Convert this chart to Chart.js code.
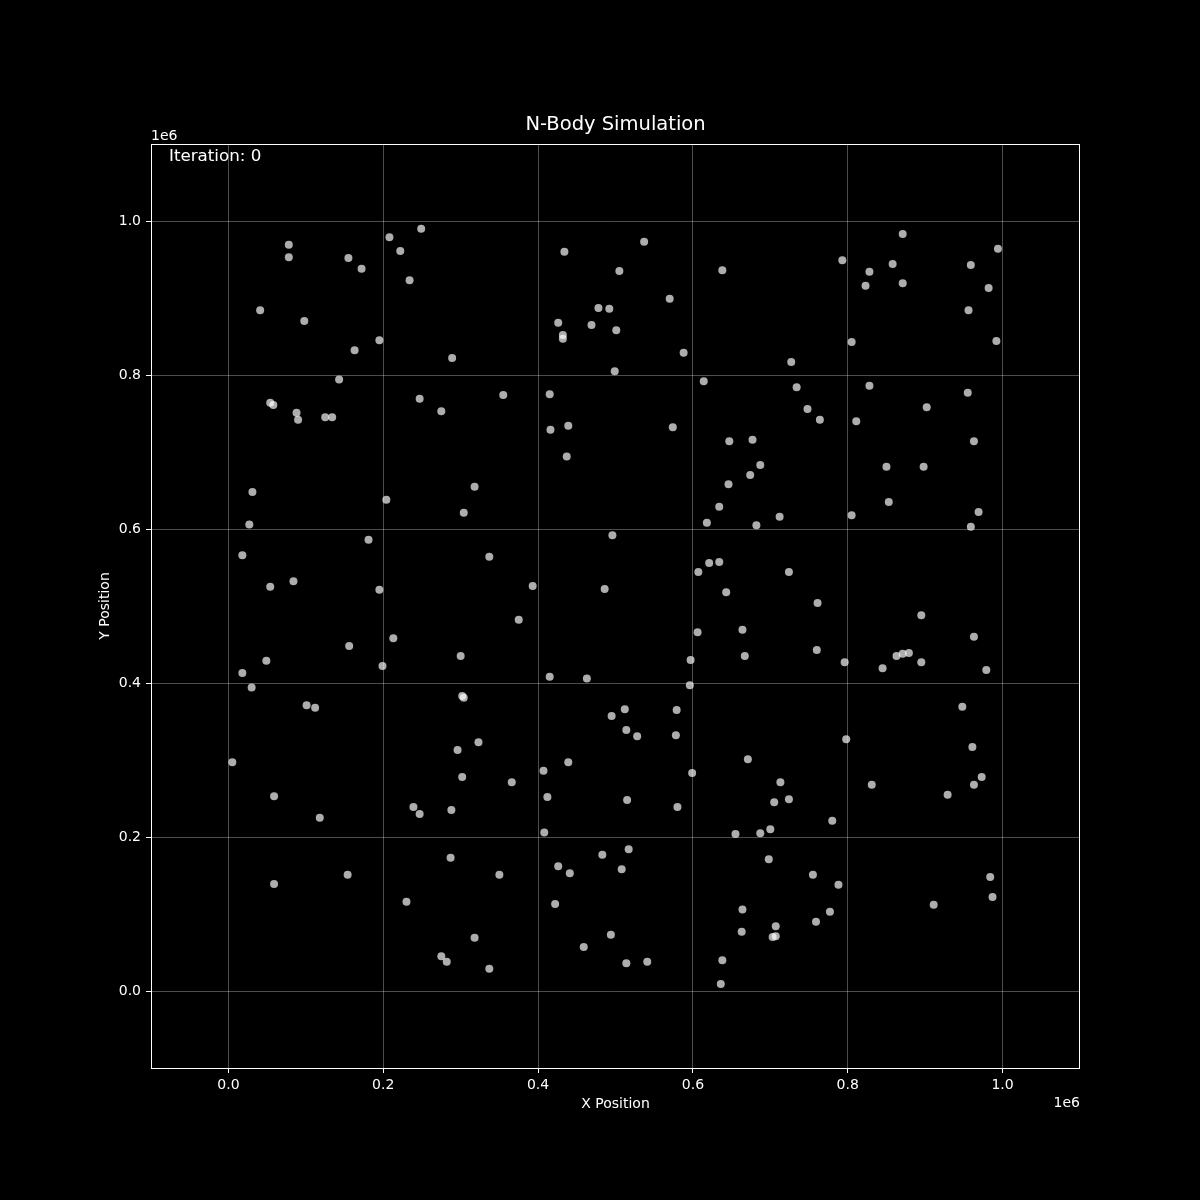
<!DOCTYPE html>
<html>
<head>
<meta charset="utf-8">
<title>N-Body Simulation</title>
<script src="https://cdn.jsdelivr.net/npm/chart.js@4.4.1/dist/chart.umd.min.js"></script>
<style>
  html, body { margin: 0; padding: 0; background: #000; }
  #wrap { width: 1200px; height: 1200px; }
</style>
</head>
<body>
<div id="wrap"><canvas id="nbody" width="1200" height="1200"></canvas></div>
<script>
// positions in units of 1e6 (axis offset label "1e6")
const bodyX = [
  0.249, 0.208, 0.434, 0.537, 0.078, 0.078, 0.155, 0.222, 0.172, 0.234,
  0.041, 0.098, 0.163, 0.195, 0.289, 0.143, 0.247, 0.054, 0.058, 0.088,
  0.090, 0.125, 0.134, 0.275, 0.355, 0.415, 0.416, 0.439, 0.437, 0.426,
  0.432, 0.432, 0.478, 0.492, 0.469, 0.501, 0.505, 0.499, 0.570, 0.588,
  0.638, 0.614, 0.574, 0.793, 0.828, 0.823, 0.858, 0.871, 0.871, 0.959,
  0.994, 0.982, 0.956, 0.992, 0.805, 0.727, 0.734, 0.828, 0.748, 0.764,
  0.647, 0.677, 0.811, 0.902, 0.955, 0.963, 0.850, 0.898, 0.687, 0.674,
  0.646, 0.634, 0.853, 0.805, 0.712, 0.682, 0.618, 0.969, 0.959, 0.031,
  0.027, 0.204, 0.318, 0.304, 0.496, 0.018, 0.181, 0.337, 0.084, 0.054,
  0.195, 0.393, 0.486, 0.375, 0.213, 0.156, 0.300, 0.049, 0.018, 0.199,
  0.030, 0.302, 0.304, 0.101, 0.112, 0.415, 0.463, 0.621, 0.634, 0.607,
  0.643, 0.606, 0.664, 0.597, 0.667, 0.596, 0.724, 0.761, 0.895, 0.760,
  0.963, 0.796, 0.845, 0.863, 0.871, 0.879, 0.895, 0.979, 0.948, 0.005,
  0.495, 0.512, 0.514, 0.528, 0.579, 0.578, 0.798, 0.961, 0.296, 0.323,
  0.439, 0.671, 0.407, 0.302, 0.366, 0.599, 0.713, 0.973, 0.963, 0.831,
  0.059, 0.412, 0.515, 0.705, 0.724, 0.929, 0.239, 0.247, 0.288, 0.580,
  0.118, 0.780, 0.408, 0.655, 0.687, 0.700, 0.517, 0.483, 0.287, 0.698,
  0.426, 0.508, 0.441, 0.154, 0.350, 0.755, 0.984, 0.788, 0.059, 0.987,
  0.230, 0.422, 0.911, 0.664, 0.777, 0.759, 0.707, 0.663, 0.703, 0.707,
  0.494, 0.318, 0.459, 0.275, 0.282, 0.514, 0.541, 0.638, 0.337, 0.636
];
const bodyY = [
  0.990, 0.979, 0.960, 0.973, 0.969, 0.953, 0.952, 0.961, 0.938, 0.923,
  0.884, 0.870, 0.832, 0.845, 0.822, 0.794, 0.769, 0.764, 0.761, 0.751,
  0.742, 0.745, 0.745, 0.753, 0.774, 0.775, 0.729, 0.734, 0.694, 0.868,
  0.852, 0.847, 0.887, 0.886, 0.865, 0.858, 0.935, 0.805, 0.899, 0.829,
  0.936, 0.792, 0.732, 0.949, 0.934, 0.916, 0.944, 0.983, 0.919, 0.943,
  0.964, 0.913, 0.884, 0.844, 0.843, 0.817, 0.784, 0.786, 0.756, 0.742,
  0.714, 0.716, 0.740, 0.758, 0.777, 0.714, 0.681, 0.681, 0.683, 0.670,
  0.658, 0.629, 0.635, 0.618, 0.616, 0.605, 0.608, 0.622, 0.603, 0.648,
  0.606, 0.638, 0.655, 0.621, 0.592, 0.566, 0.586, 0.564, 0.532, 0.525,
  0.521, 0.526, 0.522, 0.482, 0.458, 0.448, 0.435, 0.429, 0.413, 0.422,
  0.394, 0.383, 0.381, 0.371, 0.368, 0.408, 0.406, 0.556, 0.557, 0.544,
  0.518, 0.466, 0.469, 0.430, 0.435, 0.397, 0.544, 0.504, 0.488, 0.443,
  0.460, 0.427, 0.419, 0.435, 0.438, 0.439, 0.427, 0.417, 0.369, 0.297,
  0.357, 0.366, 0.339, 0.331, 0.365, 0.332, 0.327, 0.317, 0.313, 0.323,
  0.297, 0.301, 0.286, 0.278, 0.271, 0.283, 0.271, 0.278, 0.268, 0.268,
  0.253, 0.252, 0.248, 0.245, 0.249, 0.255, 0.239, 0.230, 0.235, 0.239,
  0.225, 0.221, 0.206, 0.204, 0.205, 0.210, 0.184, 0.177, 0.173, 0.171,
  0.162, 0.158, 0.153, 0.151, 0.151, 0.151, 0.148, 0.138, 0.139, 0.122,
  0.116, 0.113, 0.112, 0.106, 0.103, 0.090, 0.084, 0.077, 0.070, 0.071,
  0.073, 0.069, 0.057, 0.045, 0.038, 0.036, 0.038, 0.040, 0.029, 0.009
];
const tickValues = [0.0, 0.2, 0.4, 0.6, 0.8, 1.0];
const axisMin = -0.1;
const axisMax = 1.1;
const iteration = 0;

const points = bodyX.map((x, i) => ({ x: x, y: bodyY[i] }));
const font = "'DejaVu Sans', sans-serif";

// 背景・枠・文字をまとめて描く
const decorations = {
  id: "decorations",
  beforeDraw(chart) {
    const c = chart.ctx;
    c.save();
    c.fillStyle = "#000";
    c.fillRect(0, 0, chart.width, chart.height);
    c.restore();
  },
  afterDraw(chart) {
    const c = chart.ctx;
    const a = chart.chartArea;
    c.save();
    c.strokeStyle = "#fff";
    c.lineWidth = 1;
    c.strokeRect(a.left + 0.5, a.top + 0.5, a.right - a.left - 1, a.bottom - a.top);
    c.fillStyle = "#fff";
    c.textBaseline = "middle";
    c.textAlign = "center";
    c.font = "19.5px " + font;
    c.fillText("N-Body Simulation", (a.left + a.right) / 2, 125);
    c.font = "14px " + font;
    c.fillText("X Position", (a.left + a.right) / 2, 1104);
    c.textAlign = "left";
    c.fillText("1e6", a.left, 136);
    c.textAlign = "right";
    c.fillText("1e6", a.right, 1103);
    c.font = "16.7px " + font;
    c.textAlign = "left";
    c.fillText("Iteration: " + iteration, 169, 157);
    c.font = "14px " + font;
    c.translate(105, (a.top + a.bottom) / 2);
    c.rotate(-Math.PI / 2);
    c.textAlign = "center";
    c.fillText("Y Position", 0, 0);
    c.restore();
  },
};

const axisCommon = {
  type: "linear",
  min: axisMin,
  max: axisMax,
  afterBuildTicks: (scale) => {
    scale.ticks = tickValues.map((v) => ({ value: v }));
  },
  grid: {
    color: "rgba(255,255,255,0.3)",
    lineWidth: 1,
    tickColor: "#fff",
    tickLength: 5,
  },
  border: { display: false },
  ticks: {
    color: "#fff",
    font: { family: font, size: 14 },
    callback: (v) => Number(v).toFixed(1),
    maxRotation: 0,
  },
};

const ctx = document.getElementById("nbody").getContext("2d");
new Chart(ctx, {
  type: "scatter",
  data: {
    datasets: [
      {
        label: "bodies",
        data: points,
        backgroundColor: "rgba(255,255,255,0.68)",
        borderWidth: 0,
        pointRadius: 4,
      },
    ],
  },
  options: {
    responsive: false,
    animation: false,
    layout: { padding: { top: 144, right: 120, left: 0, bottom: 0 } },
    plugins: {
      legend: { display: false },
      tooltip: { enabled: false },
    },
    scales: {
      x: Object.assign({}, axisCommon, {
        ticks: Object.assign({}, axisCommon.ticks, { padding: 4 }),
        afterFit: (scale) => { scale.height = 132; },
      }),
      y: Object.assign({}, axisCommon, {
        ticks: Object.assign({}, axisCommon.ticks, { padding: 5 }),
        afterFit: (scale) => { scale.width = 151; },
      }),
    },
  },
  plugins: [decorations],
});
</script>
</body>
</html>
